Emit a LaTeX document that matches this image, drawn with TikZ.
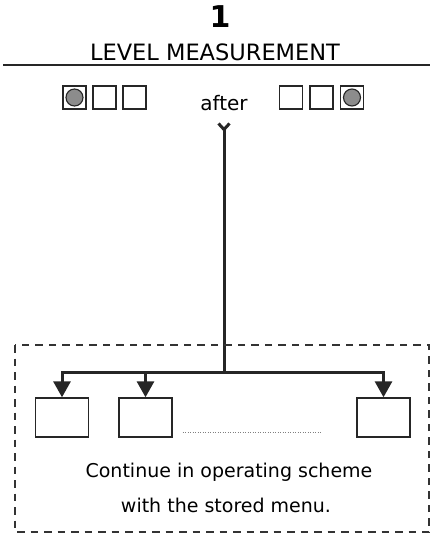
\documentclass[tikz,border=0pt]{standalone}
\usepackage{fontspec}
\setmainfont{DejaVu Sans}
\usetikzlibrary{positioning}
\usetikzlibrary{arrows.meta}
\usetikzlibrary{calc}
\tikzset{>=Triangle}
\tikzstyle{ledbox}=[draw=black!85,line width=1.4pt,shape=rectangle,fill=white,minimum size=23pt,inner sep=0pt]
\tikzstyle{ledon}=[draw=black!85,line width=1.1pt,shape=circle,fill=black!45,minimum size=17pt,inner sep=0pt]
\tikzstyle{menubox}=[draw=black!85,line width=1.4pt,shape=rectangle,fill=white,minimum width=53pt,minimum height=39pt,inner sep=0pt]
\tikzstyle{trunk}=[line width=3pt,color=black!85]
\tikzstyle{branch}=[-{Triangle[width=17pt,length=16pt]},line width=3pt,color=black!85]

\begin{document}
\begin{tikzpicture}[x=1pt,y=-1pt]
	\useasboundingbox (0,0) rectangle (430,535);
	
	% Heading
	\node[anchor = base, font = \fontsize{30}{34}\selectfont\bfseries] (num) at (220, 28) {1};
	\node[anchor = base, font = \fontsize{22.5}{26}\selectfont] (title) at (215, 60) {LEVEL MEASUREMENT};
	\draw[line width = 1.4pt, black!85] (3, 65) -- (430, 65);
	
	% Display before / after
	\node[ledbox] (l1) at (74.5, 97.5) {};
	\node[ledbox] (l2) at ($(l1) + (30, 0)$) {};
	\node[ledbox] (l3) at ($(l2) + (30, 0)$) {};
	\node[ledon] at (l1) {};
	\node[anchor = base, font = \fontsize{20}{24}\selectfont] (after) at (224, 110) {after};
	\node[ledbox] (r1) at (291, 97.5) {};
	\node[ledbox] (r2) at ($(r1) + (30.5, 0)$) {};
	\node[ledbox] (r3) at ($(r2) + (30.5, 0)$) {};
	\node[ledon] at (r3) {};
	
	% Branching into the menu
	\coordinate (top) at (224, 122);
	\coordinate (fork) at (224, 372);
	\draw[trunk, {Straight Barb[reversed, length=6pt, width=11pt, line width=3pt]}-] (top) -- (fork);
	\node[menubox] (m1) at (62, 417.5) {};
	\node[menubox] (m2) at (145.5, 417.5) {};
	\node[menubox] (m3) at (383.5, 417.5) {};
	\draw[branch] (fork) -| (m1);
	\draw[branch] (fork) -| (m2);
	\draw[branch] (fork) -| (m3);
	\draw[gray, line width = 0.8pt, dash pattern = on 0.8pt off 1.7pt] ([xshift = 10pt, yshift = 5pt]m2.south east) -- ([xshift = -35pt, yshift = 5pt]m3.south west);
	
	% Note
	\node[anchor = base, font = \fontsize{19}{23}\selectfont] (note1) at (229, 477) {Continue in operating scheme};
	\node[anchor = base, font = \fontsize{19}{23}\selectfont] (note2) at (226, 512) {with the stored menu.};
	\draw[black!80, line width = 1.2pt, dash pattern = on 7.5pt off 6pt] (15, 345) rectangle (429, 532);
	
\end{tikzpicture}
\end{document}
